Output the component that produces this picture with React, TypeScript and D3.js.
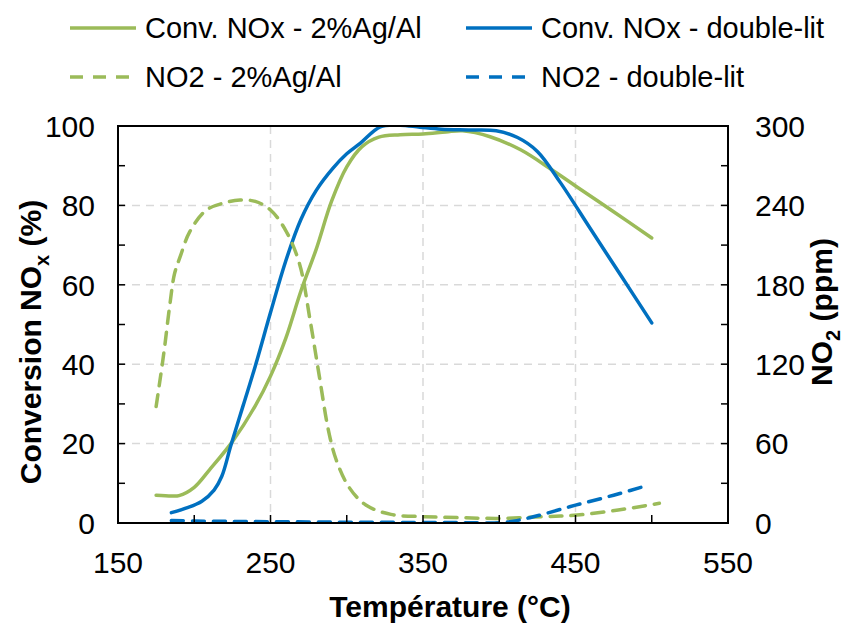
import React from "react";
import * as d3 from "d3";

const convAgT = [175, 185, 190, 200, 210, 225, 240, 250, 260, 270, 280, 290, 300, 310, 321, 335, 350, 365, 376, 394, 414, 434, 450, 475, 500];
const convAgV = [7.0, 6.8, 6.9, 9, 13.4, 20.5, 29.5, 37, 46.5, 58.5, 69, 81, 89.7, 94.8, 97.2, 97.8, 98.0, 98.5, 98.8, 97.3, 94.0, 89.1, 84.9, 78.4, 71.8];

const convDlT = [185, 195, 205, 213, 218, 224, 232, 240, 250, 260, 270, 280, 291, 300, 309, 322, 335, 348, 362, 380, 398, 412, 425, 440, 460, 480, 500];
const convDlV = [2.6, 3.8, 5.5, 8.3, 11.7, 19.5, 29.5, 39.5, 53, 66, 76.5, 83.8, 89.4, 93, 95.7, 99.8, 100.2, 99.7, 99.2, 99.0, 98.8, 97.1, 93.6, 85.8, 74, 62.2, 50.4];

const no2AgT = [175, 180, 184, 187, 191, 197, 208, 220, 230, 240, 250, 260, 269, 276, 282, 288, 293, 301.5, 312.5, 329, 351, 375, 401, 429, 451, 478, 505];
const no2AgV = [88, 128, 165, 188, 202, 220, 236.5, 242, 244, 243, 236.5, 221, 196, 153, 111, 70, 48, 27, 13.6, 6.5, 4.8, 4, 3.5, 4.8, 6, 9.8, 14.9];

const no2DlT = [185, 200, 225, 250, 275, 300, 325, 350, 375, 400, 410, 420, 430, 450, 475, 498];
const no2DlV = [1.8, 1.5, 1.2, 1.0, 0.8, 0.6, 0.5, 0.4, 0.3, 0.2, 1.5, 4, 7, 13.5, 21, 28.7];

const xTicks = [150, 250, 350, 450, 550];
const xMinorTicks = [200, 250, 300, 350, 400, 450, 500];
const xGrid = [250, 350, 450];
const yTicks = [0, 20, 40, 60, 80, 100];
const yMinor = [10, 20, 30, 40, 50, 60, 70, 80, 90];
const yGrid = [20, 40, 60, 80];
const y2Ticks = [0, 60, 120, 180, 240, 300];
const y2Minor = [30, 60, 90, 120, 150, 180, 210, 240, 270];

const legendItems = [
  { label: "Conv. NOx - 2%Ag/Al", color: "#9BBB59", dashed: false },
  { label: "Conv. NOx - double-lit", color: "#0070C0", dashed: false },
  { label: "NO2 - 2%Ag/Al", color: "#9BBB59", dashed: true },
  { label: "NO2 - double-lit", color: "#0070C0", dashed: true },
];

const GREEN = "#9BBB59";
const BLUE = "#0070C0";
const FONT = "'Liberation Sans', Arial, sans-serif";

export default function App() {
  const L = 118, R = 728, T = 126, B = 523;
  const x = d3.scaleLinear().domain([150, 550]).range([L, R]);
  const y = d3.scaleLinear().domain([0, 100]).range([B, T]);
  const y2 = d3.scaleLinear().domain([0, 300]).range([B, T]);

  const mk = (ys: d3.ScaleLinear<number, number>) =>
    d3
      .line<[number, number]>()
      .x((d) => x(d[0]))
      .y((d) => ys(d[1]))
      .curve(d3.curveCatmullRom.alpha(0.5));

  const zip = (a: number[], b: number[]) => a.map((t, i) => [t, b[i]] as [number, number]);

  const series = [
    { d: mk(y)(zip(convAgT, convAgV)), color: GREEN, dash: undefined },
    { d: mk(y)(zip(convDlT, convDlV)), color: BLUE, dash: undefined },
    { d: mk(y2)(zip(no2AgT, no2AgV)), color: GREEN, dash: "12,9" },
    { d: mk(y2)(zip(no2DlT, no2DlV)), color: BLUE, dash: "12,9" },
  ];

  const legendPos = [
    { lx: 70, ly: 28 },
    { lx: 466, ly: 28 },
    { lx: 70, ly: 77 },
    { lx: 466, ly: 77 },
  ];

  return (
    <div style={{ position: "absolute", left: 0, top: 0 }}>
      <svg width={846} height={624} style={{ display: "block", background: "#fff" }} fontFamily={FONT}>
        <defs>
          <clipPath id="plotclip">
            <rect x={L} y={T - 1} width={R - L} height={B - T + 2} />
          </clipPath>
        </defs>
        {yGrid.map((v) => (
          <line key={"gy" + v} x1={L} x2={R} y1={y(v)} y2={y(v)} stroke="#d9d9d9" strokeWidth={1.5} strokeDasharray="8,6" />
        ))}
        {xGrid.map((v) => (
          <line key={"gx" + v} x1={x(v)} x2={x(v)} y1={T} y2={B} stroke="#d9d9d9" strokeWidth={1.5} strokeDasharray="8,6" />
        ))}
        <g clipPath="url(#plotclip)">
          {series.map((s, i) => (
            <path key={i} d={s.d || ""} fill="none" stroke={s.color} strokeWidth={3.5} strokeDasharray={s.dash} strokeLinecap="round" />
          ))}
        </g>
        <rect x={L} y={T} width={R - L} height={B - T} fill="none" stroke="#000" strokeWidth={2} />
        {yMinor.map((v) => (
          <line key={"ty" + v} x1={L} x2={L + 7} y1={y(v)} y2={y(v)} stroke="#000" strokeWidth={1.5} />
        ))}
        {y2Minor.map((v) => (
          <line key={"ty2" + v} x1={R - 7} x2={R} y1={y2(v)} y2={y2(v)} stroke="#000" strokeWidth={1.5} />
        ))}
        {xMinorTicks.map((v) => (
          <line key={"tx" + v} x1={x(v)} x2={x(v)} y1={B} y2={B - 8} stroke="#000" strokeWidth={1.5} />
        ))}
        {yTicks.map((v) => (
          <text key={"ly" + v} x={95} y={y(v)} dy="0.36em" textAnchor="end" fontSize={30} fill="#000">
            {v}
          </text>
        ))}
        {y2Ticks.map((v) => (
          <text key={"ly2" + v} x={755} y={y2(v)} dy="0.36em" textAnchor="start" fontSize={30} fill="#000">
            {v}
          </text>
        ))}
        {xTicks.map((v) => (
          <text key={"lx" + v} x={x(v)} y={573} textAnchor="middle" fontSize={30} fill="#000">
            {v}
          </text>
        ))}
        <text x={450} y={617} textAnchor="middle" fontSize={30} fontWeight="bold" fill="#000">
          Température (°C)
        </text>
        <text transform="translate(41,342) rotate(-90)" textAnchor="middle" fontSize={30} fontWeight="bold" fill="#000">
          Conversion NO
          <tspan fontSize={20} dy={8}>x</tspan>
          <tspan dy={-8}> (%)</tspan>
        </text>
        <text transform="translate(832,312) rotate(-90)" textAnchor="middle" fontSize={30} fontWeight="bold" fill="#000">
          NO
          <tspan fontSize={20} dy={8}>2</tspan>
          <tspan dy={-8}> (ppm)</tspan>
        </text>
        {legendItems.map((it, i) => {
          const p = legendPos[i];
          return (
            <g key={"lg" + i}>
              <line x1={p.lx} x2={p.lx + 66} y1={p.ly} y2={p.ly} stroke={it.color} strokeWidth={3.5} strokeDasharray={it.dashed ? "13,10" : undefined} />
              <text x={p.lx + 75} y={p.ly} dy="0.36em" fontSize={29} fill="#000">
                {it.label}
              </text>
            </g>
          );
        })}
      </svg>
    </div>
  );
}
